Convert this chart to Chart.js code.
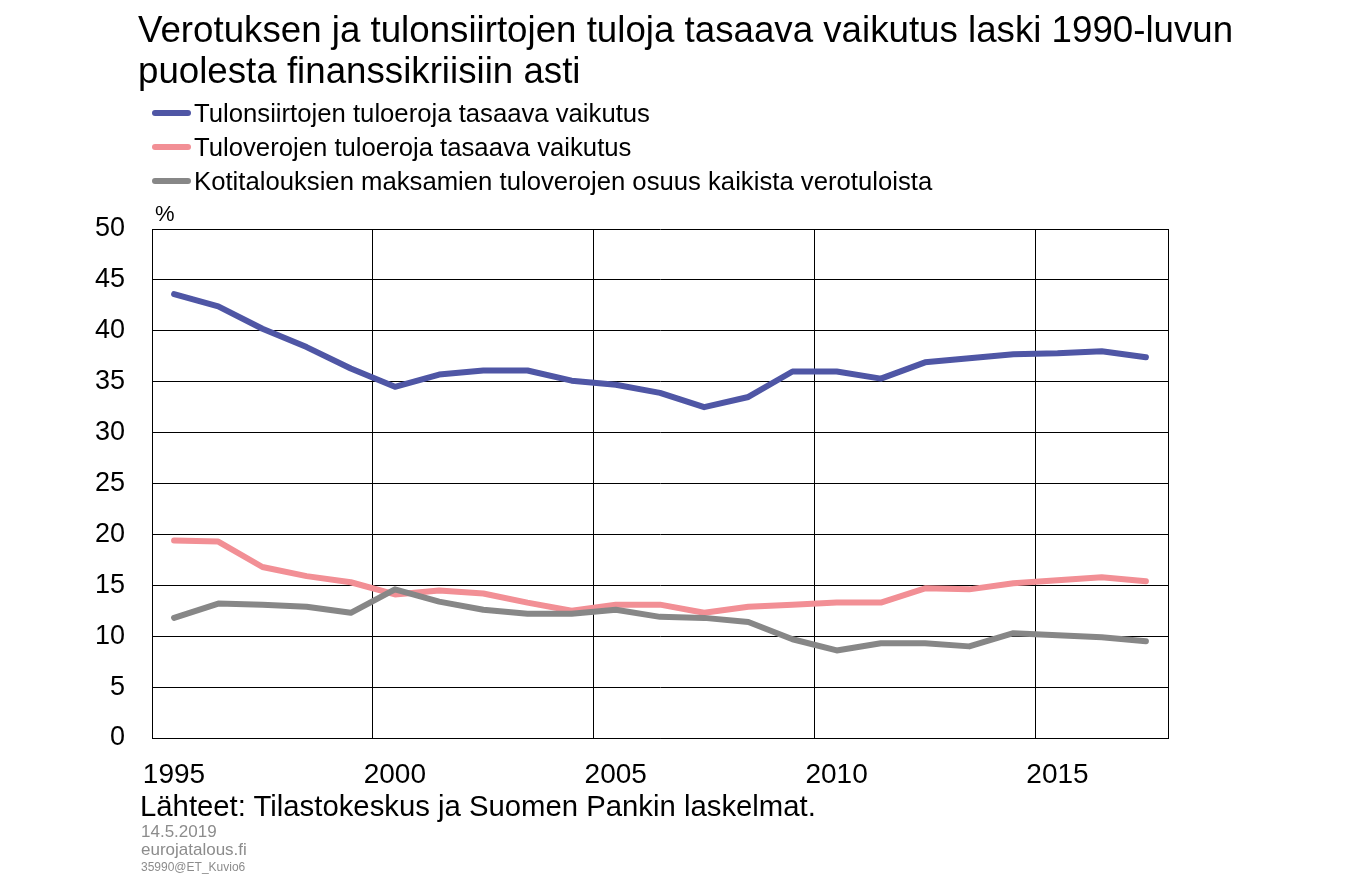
<!DOCTYPE html>
<html>
<head>
<meta charset="utf-8">
<script src="https://cdn.jsdelivr.net/npm/chart.js@4.4.1/dist/chart.umd.min.js"></script>
<style>
    body { margin: 0; background: #fff; font-family: "Liberation Sans", Arial, sans-serif; }
    #wrap { position: relative; width: 1348px; height: 880px; overflow: hidden; }
    #chart { position: absolute; left: 0; top: 0; }
    .title { position: absolute; left: 138px; top: 9px; font-size: 36.7px; line-height: 41px; color: #000; white-space: nowrap; }
    .legend { position: absolute; left: 152px; top: 96px; font-size: 25.7px; color: #000; white-space: nowrap; }
    .legend .row { height: 34px; display: flex; align-items: center; }
    .legend .sw { display: inline-block; width: 39px; height: 6px; border-radius: 3px; margin-right: 3px; }
    .unit { position: absolute; left: 155px; top: 201px; font-size: 22px; }
    .source { position: absolute; left: 140px; top: 789px; font-size: 29.3px; color: #000; white-space: nowrap; }
    .meta { position: absolute; left: 141px; color: #8c8c8c; white-space: nowrap; }
</style>
</head>
<body>
<div id="wrap">
    <canvas id="chart" width="1348" height="880"></canvas>
    <div class="title">Verotuksen ja tulonsiirtojen tuloja tasaava vaikutus laski 1990-luvun<br>puolesta finanssikriisiin asti</div>
    <div class="legend" id="legend"></div>
    <div class="unit">%</div>
    <div class="source">Lähteet: Tilastokeskus ja Suomen Pankin laskelmat.</div>
    <div class="meta" style="top:822px;font-size:17px;">14.5.2019</div>
    <div class="meta" style="top:840px;font-size:17px;">eurojatalous.fi</div>
    <div class="meta" style="top:860px;font-size:12px;">35990@ET_Kuvio6</div>
</div>
<script>
// ---------------------------------------------------------
// DATA
// ---------------------------------------------------------
const years = [1995, 1996, 1997, 1998, 1999, 2000, 2001, 2002, 2003, 2004, 2005, 2006,
               2007, 2008, 2009, 2010, 2011, 2012, 2013, 2014, 2015, 2016, 2017];

const transfersEffect = [43.6, 42.4, 40.2, 38.4, 36.3, 34.5, 35.7, 36.1, 36.1, 35.1, 34.7, 33.9,
                         32.5, 33.5, 36.0, 36.0, 35.3, 36.9, 37.3, 37.7, 37.8, 38.0, 37.4];

const incomeTaxEffect = [19.4, 19.3, 16.8, 15.9, 15.3, 14.1, 14.5, 14.2, 13.3, 12.5, 13.1, 13.1,
                         12.3, 12.9, 13.1, 13.3, 13.3, 14.7, 14.6, 15.2, 15.5, 15.8, 15.4];

const householdTaxShare = [11.8, 13.2, 13.1, 12.9, 12.3, 14.6, 13.4, 12.6, 12.2, 12.2, 12.6, 11.9,
                           11.8, 11.4, 9.7, 8.6, 9.3, 9.3, 9.0, 10.3, 10.1, 9.9, 9.5];

const xTicks = [1995, 2000, 2005, 2010, 2015, 2018];
const yTicks = [0, 5, 10, 15, 20, 25, 30, 35, 40, 45, 50];

const seriesLabels = [
    'Tulonsiirtojen tuloeroja tasaava vaikutus',
    'Tuloverojen tuloeroja tasaava vaikutus',
    'Kotitalouksien maksamien tuloverojen osuus kaikista verotuloista'
];
const seriesColors = ['#4f56a5', '#f28f95', '#878787'];

// ---------------------------------------------------------
// LEGEND
// ---------------------------------------------------------
const legendEl = document.getElementById('legend');
seriesLabels.forEach((label, i) => {
    const row = document.createElement('div');
    row.className = 'row';
    row.innerHTML = `<span class="sw" style="background:${seriesColors[i]}"></span><span>${label}</span>`;
    legendEl.appendChild(row);
});

// ---------------------------------------------------------
// CHART
// ---------------------------------------------------------
const FONT = '"Liberation Sans", Arial, sans-serif';

function makeSet(i, values, order) {
    return {
        label: seriesLabels[i],
        data: years.map((yr, k) => ({ x: yr + 0.5, y: values[k] })),
        borderColor: seriesColors[i],
        backgroundColor: seriesColors[i],
        borderWidth: 6,
        borderCapStyle: 'round',
        borderJoinStyle: 'round',
        pointRadius: 0,
        tension: 0,
        order: order
    };
}

new Chart(document.getElementById('chart').getContext('2d'), {
    type: 'line',
    data: {
        datasets: [
            makeSet(0, transfersEffect, 0),
            makeSet(1, incomeTaxEffect, 2),
            makeSet(2, householdTaxShare, 1)
        ]
    },
    options: {
        responsive: false,
        animation: false,
        layout: { padding: { top: 229, right: 180, left: 0, bottom: 0 } },
        plugins: { legend: { display: false }, tooltip: { enabled: false } },
        scales: {
            x: {
                type: 'linear',
                min: 1995,
                max: 2018,
                afterFit: s => { s.height = 142; },
                afterBuildTicks: s => { s.ticks = xTicks.map(v => ({ value: v })); },
                grid: { color: '#000', lineWidth: 1, drawTicks: false },
                border: { color: '#000', width: 1 },
                ticks: {
                    color: '#000',
                    font: { size: 28, family: FONT },
                    padding: 20,
                    labelOffset: 22,
                    maxRotation: 0,
                    autoSkip: false,
                    callback: v => (v === 2018 ? '' : String(v))
                }
            },
            y: {
                min: 0,
                max: 50,
                afterFit: s => { s.width = 152; },
                afterBuildTicks: s => { s.ticks = yTicks.map(v => ({ value: v })); },
                grid: { color: '#000', lineWidth: 1, drawTicks: false },
                border: { color: '#000', width: 1 },
                ticks: {
                    color: '#000',
                    font: { size: 27, family: FONT },
                    padding: 27
                }
            }
        }
    }
});
</script>
</body>
</html>
